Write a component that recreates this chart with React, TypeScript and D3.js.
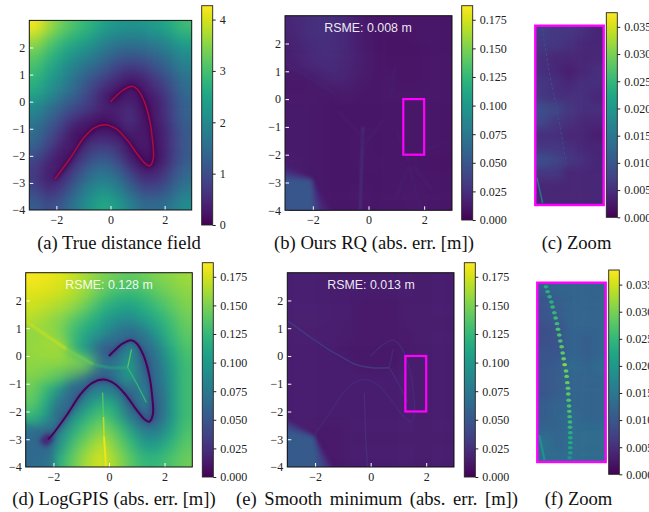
import React, { useRef, useEffect } from "react";
import * as d3 from "d3";

// cell centres of the coarse field grids
const fieldX = [-2.75, -2.25, -1.75, -1.25, -0.75, -0.25, 0.25, 0.75, 1.25, 1.75, 2.25, 2.75];
const fieldY = [2.75, 2.25, 1.75, 1.25, 0.75, 0.25, -0.25, -0.75, -1.25, -1.75, -2.25, -2.75, -3.25, -3.75];
const zoomX = [1.325, 1.475, 1.625, 1.775, 1.925];

const trueField = [
  [4.2, 3.65, 3.27, 3.0, 2.75, 2.42, 2.25, 2.18, 2.25, 2.38, 2.62, 2.95],
  [3.65, 3.18, 2.85, 2.58, 2.35, 1.95, 1.75, 1.68, 1.75, 1.9, 2.2, 2.5],
  [3.25, 2.85, 2.47, 2.15, 1.9, 1.6, 1.3, 1.18, 1.28, 1.45, 1.75, 2.1],
  [3.0, 2.55, 2.15, 1.77, 1.46, 1.2, 0.85, 0.68, 0.8, 1.1, 1.45, 1.85],
  [2.75, 2.3, 1.92, 1.46, 1.06, 0.78, 0.45, 0.2, 0.4, 0.75, 1.15, 1.6],
  [2.47, 2.05, 1.62, 1.27, 0.79, 0.35, 0.1, 0.3, 0.2, 0.45, 0.95, 1.45],
  [2.0, 1.6, 1.2, 0.9, 0.72, 0.4, 0.4, 0.58, 0.1, 0.35, 0.85, 1.35],
  [1.7, 1.25, 0.85, 0.45, 0.2, 0.1, 0.28, 0.65, 0.2, 0.3, 0.8, 1.3],
  [1.5, 0.98, 0.55, 0.1, 0.3, 0.4, 0.25, 0.28, 0.3, 0.2, 0.7, 1.2],
  [1.25, 0.75, 0.28, 0.28, 0.75, 0.9, 0.7, 0.15, 0.3, 0.18, 0.7, 1.2],
  [0.85, 0.4, 0.15, 0.65, 1.15, 1.35, 1.05, 0.45, 0.1, 0.2, 0.75, 1.25],
  [0.7, 0.22, 0.5, 1.05, 1.55, 1.75, 1.5, 0.95, 0.45, 0.55, 1.0, 1.5],
  [0.95, 0.5, 0.85, 1.45, 1.95, 2.2, 1.9, 1.4, 0.95, 0.95, 1.3, 1.75],
  [1.25, 0.95, 1.25, 1.75, 2.25, 2.6, 2.35, 1.85, 1.45, 1.45, 1.7, 2.1],
];

const oursField = [
  [0.02, 0.024, 0.026, 0.024, 0.02, 0.013, 0.0105, 0.0105, 0.0105, 0.0105, 0.0105, 0.0105],
  [0.018, 0.024, 0.026, 0.024, 0.02, 0.013, 0.0105, 0.009, 0.009, 0.0105, 0.0105, 0.0105],
  [0.016, 0.02, 0.024, 0.024, 0.02, 0.015, 0.0105, 0.009, 0.009, 0.009, 0.0105, 0.0105],
  [0.015, 0.02, 0.022, 0.022, 0.018, 0.015, 0.0105, 0.009, 0.009, 0.009, 0.0105, 0.0105],
  [0.011, 0.011, 0.016, 0.02, 0.018, 0.013, 0.0105, 0.0105, 0.009, 0.009, 0.0105, 0.0105],
  [0.011, 0.011, 0.011, 0.011, 0.013, 0.0105, 0.0105, 0.0105, 0.0105, 0.0105, 0.0105, 0.0105],
  [0.013, 0.013, 0.012, 0.0105, 0.0105, 0.0105, 0.0105, 0.0105, 0.0105, 0.0105, 0.0105, 0.0105],
  [0.013, 0.013, 0.012, 0.0105, 0.0105, 0.0105, 0.0105, 0.0105, 0.0105, 0.0105, 0.0105, 0.0105],
  [0.013, 0.013, 0.012, 0.0105, 0.0105, 0.012, 0.0105, 0.0105, 0.0105, 0.0105, 0.0105, 0.0105],
  [0.013, 0.013, 0.012, 0.0105, 0.0105, 0.012, 0.0105, 0.0105, 0.0105, 0.0105, 0.0105, 0.0105],
  [0.014, 0.013, 0.012, 0.0105, 0.0105, 0.012, 0.012, 0.0105, 0.0105, 0.0105, 0.009, 0.009],
  [0.014, 0.013, 0.012, 0.0105, 0.0105, 0.0105, 0.0105, 0.0105, 0.0105, 0.0105, 0.0105, 0.0105],
  [0.014, 0.014, 0.012, 0.0105, 0.0105, 0.012, 0.0105, 0.0105, 0.012, 0.012, 0.0105, 0.0105],
  [0.014, 0.014, 0.012, 0.0105, 0.0105, 0.012, 0.0105, 0.0105, 0.0105, 0.012, 0.0105, 0.0105],
];

const gpisField = [
  [0.185, 0.182, 0.178, 0.17, 0.16, 0.15, 0.145, 0.14, 0.145, 0.15, 0.155, 0.16],
  [0.178, 0.176, 0.172, 0.165, 0.155, 0.14, 0.128, 0.125, 0.13, 0.14, 0.148, 0.155],
  [0.172, 0.168, 0.162, 0.155, 0.14, 0.12, 0.11, 0.105, 0.115, 0.128, 0.14, 0.15],
  [0.165, 0.158, 0.15, 0.135, 0.12, 0.105, 0.09, 0.085, 0.1, 0.115, 0.13, 0.145],
  [0.155, 0.16, 0.15, 0.125, 0.105, 0.09, 0.07, 0.055, 0.07, 0.1, 0.125, 0.14],
  [0.158, 0.162, 0.165, 0.125, 0.09, 0.05, 0.05, 0.09, 0.055, 0.08, 0.115, 0.135],
  [0.155, 0.155, 0.155, 0.15, 0.14, 0.07, 0.075, 0.105, 0.05, 0.07, 0.105, 0.13],
  [0.15, 0.14, 0.125, 0.085, 0.06, 0.05, 0.07, 0.11, 0.06, 0.065, 0.1, 0.13],
  [0.145, 0.125, 0.09, 0.05, 0.07, 0.085, 0.07, 0.055, 0.085, 0.055, 0.1, 0.13],
  [0.14, 0.11, 0.065, 0.06, 0.1, 0.12, 0.11, 0.05, 0.08, 0.05, 0.1, 0.13],
  [0.12, 0.1, 0.05, 0.1, 0.125, 0.14, 0.12, 0.08, 0.05, 0.055, 0.1, 0.13],
  [0.07, 0.05, 0.085, 0.12, 0.14, 0.155, 0.14, 0.115, 0.08, 0.08, 0.11, 0.135],
  [0.06, 0.05, 0.1, 0.135, 0.155, 0.17, 0.15, 0.13, 0.105, 0.105, 0.125, 0.14],
  [0.065, 0.075, 0.12, 0.145, 0.165, 0.175, 0.16, 0.14, 0.125, 0.125, 0.135, 0.145],
];

const smoothField = [
  [0.016, 0.016, 0.016, 0.014, 0.014, 0.014, 0.014, 0.014, 0.014, 0.014, 0.014, 0.014],
  [0.016, 0.016, 0.016, 0.014, 0.014, 0.014, 0.014, 0.014, 0.014, 0.014, 0.014, 0.014],
  [0.016, 0.016, 0.016, 0.015, 0.014, 0.012, 0.012, 0.012, 0.014, 0.014, 0.014, 0.014],
  [0.016, 0.016, 0.016, 0.015, 0.014, 0.012, 0.012, 0.012, 0.014, 0.014, 0.014, 0.014],
  [0.014, 0.014, 0.014, 0.014, 0.014, 0.012, 0.012, 0.012, 0.012, 0.014, 0.014, 0.014],
  [0.014, 0.014, 0.014, 0.014, 0.012, 0.012, 0.012, 0.012, 0.012, 0.014, 0.014, 0.014],
  [0.014, 0.014, 0.014, 0.014, 0.014, 0.012, 0.012, 0.012, 0.014, 0.014, 0.014, 0.014],
  [0.014, 0.014, 0.014, 0.014, 0.014, 0.014, 0.014, 0.014, 0.014, 0.014, 0.014, 0.014],
  [0.014, 0.014, 0.014, 0.014, 0.014, 0.014, 0.014, 0.014, 0.014, 0.014, 0.014, 0.014],
  [0.014, 0.014, 0.014, 0.014, 0.014, 0.014, 0.014, 0.014, 0.014, 0.014, 0.014, 0.014],
  [0.014, 0.014, 0.014, 0.014, 0.014, 0.014, 0.014, 0.014, 0.014, 0.014, 0.014, 0.014],
  [0.014, 0.014, 0.012, 0.012, 0.014, 0.014, 0.014, 0.014, 0.014, 0.014, 0.014, 0.014],
  [0.014, 0.014, 0.012, 0.012, 0.014, 0.014, 0.014, 0.014, 0.014, 0.014, 0.014, 0.014],
  [0.014, 0.014, 0.012, 0.012, 0.014, 0.014, 0.014, 0.014, 0.014, 0.014, 0.014, 0.014],
];

const zoomOursField = [
  [0.007, 0.006, 0.006, 0.005, 0.004],
  [0.006, 0.006, 0.005, 0.004, 0.004],
  [0.005, 0.004, 0.004, 0.004, 0.004],
  [0.005, 0.004, 0.003, 0.004, 0.005],
  [0.006, 0.005, 0.004, 0.005, 0.005],
  [0.006, 0.005, 0.005, 0.005, 0.004],
  [0.009, 0.008, 0.006, 0.005, 0.005],
  [0.008, 0.006, 0.005, 0.004, 0.004],
  [0.005, 0.005, 0.004, 0.004, 0.003],
  [0.006, 0.006, 0.005, 0.004, 0.004],
  [0.009, 0.008, 0.006, 0.005, 0.004],
  [0.006, 0.006, 0.004, 0.004, 0.004],
  [0.004, 0.004, 0.004, 0.004, 0.004],
  [0.004, 0.004, 0.004, 0.004, 0.004],
];

const zoomSmoothField = [
  [0.011, 0.012, 0.012, 0.012, 0.012],
  [0.01, 0.011, 0.012, 0.012, 0.012],
  [0.01, 0.011, 0.012, 0.012, 0.012],
  [0.009, 0.01, 0.012, 0.012, 0.012],
  [0.009, 0.01, 0.012, 0.011, 0.012],
  [0.01, 0.01, 0.012, 0.011, 0.012],
  [0.01, 0.011, 0.013, 0.012, 0.013],
  [0.01, 0.011, 0.012, 0.012, 0.012],
  [0.01, 0.011, 0.012, 0.012, 0.012],
  [0.011, 0.012, 0.012, 0.012, 0.012],
  [0.011, 0.012, 0.013, 0.012, 0.012],
  [0.012, 0.012, 0.013, 0.013, 0.013],
  [0.014, 0.012, 0.013, 0.013, 0.013],
  [0.013, 0.013, 0.013, 0.013, 0.013],
];

// the object's outline
const outline: [number, number][] = [
  [-2.05, -2.85], [-1.5, -2.1], [-1, -1.35], [-0.6, -0.97], [-0.2, -0.85], [0.2, -1.0],
  [0.6, -1.4], [1, -1.95], [1.3, -2.3], [1.45, -2.37], [1.58, -2.1], [1.55, -1.4],
  [1.45, -0.7], [1.25, 0], [1.0, 0.45], [0.8, 0.57], [0.5, 0.45], [0.2, 0.2], [0, 0],
];
const outlineLong: [number, number][] = [[-2.2, -3.0], ...outline];
const outlineTail: [number, number][] = [[-2.4, -3.15], [-2.1, -2.9]];

const splitA: [number, number][] = [[-3, 1.27], [-2.2, 0.7], [-1.52, 0.24]];
const splitB: [number, number][] = [[-1.52, 0.24], [-1, -0.06], [-0.56, -0.3]];
const splitC: [number, number][] = [[-0.56, -0.3], [0.03, -0.42], [0.67, -0.42]];
const splitLeft: [number, number][] = [...splitA, ...splitB.slice(1), ...splitC.slice(1)];
const splitUp: [number, number][] = [[0.67, -0.42], [0.81, 0.24]];
const splitDown: [number, number][] = [[0.67, -0.42], [1.0, -1.0], [1.35, -1.68]];
const splitBottomA: [number, number][] = [[-0.23, -1.32], [-0.2, -2.2]];
const splitBottomB: [number, number][] = [[-0.2, -2.2], [-0.18, -2.9]];
const splitBottomC: [number, number][] = [[-0.18, -2.9], [-0.11, -4]];
const splitBottom: [number, number][] = [...splitBottomA, ...splitBottomB.slice(1), ...splitBottomC.slice(1)];

const rayA: [number, number][] = [[-3, 1.3], [-1.2, 0.2]];
const rayB: [number, number][] = [[-0.3, -4], [-0.2, -1.0]];
const rayC: [number, number][] = [[0.8, 0.1], [0.95, 1.2]];
const rayD: [number, number][] = [[1.45, -2.2], [1.0, -1.1]];
const rayE: [number, number][] = [[1.6, -2.4], [2.3, -3.3]];
const rayF: [number, number][] = [[-0.2, -1.4], [-1.1, -0.4]];
const rayG: [number, number][] = [[-0.2, -1.7], [0.6, -0.7]];
const rayH: [number, number][] = [[1.45, -2.4], [0.95, -3.6]];
const rayI: [number, number][] = [[1.45, -2.4], [1.9, -4]];
const rayJ: [number, number][] = [[1.5, -2.0], [3, -1.5]];

const zoomRidgeC: [number, number][] = [[1.33, -0.03], [1.4, -0.5], [1.5, -1.0], [1.59, -1.55]];
const zoomStreak: [number, number][] = [[1.27, -1.7], [1.33, -1.98]];

const roiX = [1.25, 2];
const roiY = [0, -2];

// patches with sharp edges laid over the grid
type Patch = { pts: [number, number][]; v: number; op: number; blur: string };
const oursPatches: Patch[] = [
  { pts: [[-3, -2.2], [-2.05, -2.85], [-1.2, -4], [-3, -4]], v: 0.02, op: 1, blur: "b3" },
  { pts: [[-3, -2.5], [-2.05, -2.87], [-1.6, -4], [-3, -4]], v: 0.033, op: 1, blur: "b3" },
  { pts: [[-3, -2.8], [-2.05, -2.92], [-1.9, -4], [-3, -4]], v: 0.05, op: 1, blur: "b3" },
];
const smoothPatches: Patch[] = [
  { pts: [[-3, -2.05], [-2.05, -2.87], [-1.15, -4], [-3, -4]], v: 0.026, op: 1, blur: "b3" },
  { pts: [[-3, -2.25], [-2.05, -2.9], [-1.45, -4], [-3, -4]], v: 0.04, op: 1, blur: "b3" },
  { pts: [[-3, -2.55], [-2.05, -2.95], [-1.8, -4], [-3, -4]], v: 0.052, op: 1, blur: "b3" },
];
const gpisPatches: Patch[] = [
  { pts: [[-3, 1.27], [-1.52, 0.24], [-0.56, -0.3], [-1.0, -0.8], [-2, -1], [-3, -0.5]], v: 0.158, op: 0.3, blur: "b4" },
  { pts: [[-3, -2.15], [-2.12, -2.93], [-1.9, -4], [-3, -4]], v: 0.065, op: 0.5, blur: "b3" },
];

// dots on the surface in the LogGPIS zoom: x, y, error
const zoomDots: [number, number, number][] = [
  [1.345, -0.045, 0.023], [1.363, -0.1, 0.024], [1.385, -0.156, 0.024], [1.404, -0.216, 0.024],
  [1.418, -0.271, 0.025], [1.437, -0.335, 0.025], [1.451, -0.394, 0.026], [1.466, -0.457, 0.026],
  [1.477, -0.52, 0.027], [1.491, -0.584, 0.027], [1.502, -0.651, 0.027], [1.517, -0.714, 0.028],
  [1.528, -0.784, 0.028], [1.539, -0.848, 0.029], [1.55, -0.914, 0.031], [1.565, -0.985, 0.029],
  [1.572, -1.045, 0.029], [1.579, -1.115, 0.029], [1.587, -1.178, 0.028], [1.59, -1.242, 0.028],
  [1.594, -1.312, 0.027], [1.598, -1.375, 0.027], [1.601, -1.435, 0.027], [1.605, -1.494, 0.026],
  [1.609, -1.554, 0.026], [1.609, -1.613, 0.025], [1.612, -1.673, 0.024], [1.612, -1.729, 0.023],
  [1.612, -1.784, 0.023], [1.612, -1.84, 0.022], [1.612, -1.896, 0.021], [1.605, -1.952, 0.019],
];

const line = (d3.line() as any).curve(d3.curveCatmullRom);

type Mark = { pts: [number, number][]; v: number; w: number; blur?: string; dash?: string; color?: string; op?: number };

const panels = [
  {
    box: [29.3, 20.4, 191.7, 210], xd: [-3, 3], yd: [3, -4], field: trueField, xs: fieldX, ys: fieldY, blur: "b6",
    bar: [201.7, 5.7, 212.7, 225], max: 4.27, ticks: [0, 1, 2, 3, 4], fmt: "d", axes: true,
    caption: "(a) True distance field", capX: 119,
    marks: [
      { pts: outline, v: 0, w: 4, blur: "b3" },
      { pts: outline, v: 0, w: 1.5, color: "#a8103c" },
    ] as Mark[],
  },
  {
    box: [285, 15.7, 452, 210.3], xd: [-3, 3], yd: [3, -4], field: oursField, xs: fieldX, ys: fieldY, blur: "b6",
    bar: [461.7, 5.7, 472.7, 220], max: 0.1873, ticks: d3.range(0, 0.176, 0.025), fmt: ".3f", axes: true,
    caption: "(b) Ours RQ (abs. err. [m])", capX: 374, note: "RSME: 0.008 m", noteX: 368,
    patches: oursPatches, roi: true,
    marks: [
      { pts: rayA, v: 0.02, w: 1.2, blur: "b2" },
      { pts: rayB, v: 0.024, w: 2.4, blur: "b2" },
      { pts: rayC, v: 0.016, w: 1.6, blur: "b2" },
      { pts: rayD, v: 0.015, w: 2, blur: "b2" },
      { pts: rayE, v: 0.014, w: 3, blur: "b2" },
      { pts: rayF, v: 0.014, w: 2.4, blur: "b2" },
      { pts: rayG, v: 0.014, w: 2.4, blur: "b2" },
      { pts: rayH, v: 0.014, w: 3, blur: "b2" },
      { pts: rayI, v: 0.014, w: 3, blur: "b2" },
      { pts: rayJ, v: 0.013, w: 2.4, blur: "b2" },
    ] as Mark[],
  },
  {
    box: [535.3, 25.7, 603.7, 205], xd: roiX, yd: roiY, field: zoomOursField, xs: zoomX, ys: fieldY, blur: "b4",
    bar: [606.3, 12.7, 617.3, 217.3], max: 0.0376, ticks: d3.range(0, 0.036, 0.005), fmt: ".3f", axes: false,
    caption: "(c) Zoom", capX: 576.5, frame: true,
    marks: [
      { pts: zoomRidgeC, v: 0.009, w: 1, blur: "b1", dash: "3 2" },
      { pts: zoomStreak, v: 0.014, w: 1.5, blur: "b1" },
    ] as Mark[],
  },
  {
    box: [25.7, 272.7, 192.3, 467], xd: [-3, 3], yd: [3, -4], field: gpisField, xs: fieldX, ys: fieldY, blur: "b6",
    bar: [202.3, 262.7, 213.3, 477], max: 0.1873, ticks: d3.range(0, 0.176, 0.025), fmt: ".3f", axes: true,
    caption: "(d) LogGPIS (abs. err. [m])", capX: 114, note: "RSME: 0.128 m", noteX: 109,
    patches: gpisPatches,
    marks: [
      { pts: outlineTail, v: 0.02, w: 9, blur: "b3" },
      { pts: outlineLong, v: 0.02, w: 4, blur: "b3", op: 0.5 },
      { pts: outlineLong, v: 0.002, w: 2, blur: "b1" },
      { pts: splitA, v: 0.172, w: 2, blur: "b2" },
      { pts: splitB, v: 0.15, w: 1.6, blur: "b2" },
      { pts: splitC, v: 0.12, w: 1.4, blur: "b2" },
      { pts: splitUp, v: 0.14, w: 1.2, blur: "b1" },
      { pts: splitDown, v: 0.125, w: 1.2, blur: "b1" },
      { pts: splitBottomA, v: 0.14, w: 1.2, blur: "b1" },
      { pts: splitBottomB, v: 0.168, w: 1.6, blur: "b1" },
      { pts: splitBottomC, v: 0.182, w: 2, blur: "b1" },
    ] as Mark[],
  },
  {
    box: [287.3, 272.7, 454, 467], xd: [-3, 3], yd: [3, -4], field: smoothField, xs: fieldX, ys: fieldY, blur: "b6",
    bar: [464.3, 262.7, 475.3, 477], max: 0.1873, ticks: d3.range(0, 0.176, 0.025), fmt: ".3f", axes: true,
    caption: "(e) Smooth minimum (abs. err. [m])", capX: 377, capSpace: 3, note: "RSME: 0.013 m", noteX: 371,
    patches: smoothPatches, roi: true,
    marks: [
      { pts: outline, v: 0.022, w: 1.2, blur: "b1" },
      { pts: splitLeft, v: 0.03, w: 1.5, blur: "b1" },
      { pts: splitUp, v: 0.022, w: 1.2, blur: "b1" },
      { pts: splitDown, v: 0.024, w: 1.2, blur: "b1" },
      { pts: splitBottom, v: 0.024, w: 1.4, blur: "b1" },
    ] as Mark[],
  },
  {
    box: [537.3, 282.7, 605.7, 462], xd: roiX, yd: roiY, field: zoomSmoothField, xs: zoomX, ys: fieldY, blur: "b4",
    bar: [608.7, 270, 619.3, 474.3], max: 0.0377, ticks: d3.range(0, 0.036, 0.005), fmt: ".3f", axes: false,
    caption: "(f) Zoom", capX: 578.5, frame: true, dots: zoomDots,
    marks: [
      { pts: zoomStreak, v: 0.019, w: 2.2, blur: "b1" },
    ] as Mark[],
  },
];

const App = () => {
  const svgRef = useRef<SVGSVGElement>(null);

  useEffect(() => {
    const svg = d3.select(svgRef.current);
    svg.selectAll("*").remove();

    const defs = svg.append("defs");
    [["b1", 0.6], ["b2", 1.2], ["b3", 2.2], ["b4", 4.5], ["b6", 6.5]].forEach(([id, sd]) => {
      defs
        .append("filter")
        .attr("id", id as string)
        .attr("filterUnits", "userSpaceOnUse")
        .attr("x", -60).attr("y", -60).attr("width", 800).attr("height", 660)
        .attr("color-interpolation-filters", "sRGB")
        .append("feGaussianBlur")
        .attr("stdDeviation", sd as number);
    });

    panels.forEach((p: any, idx) => {
      const [x0, y0, x1, y1] = p.box;
      const x = d3.scaleLinear().domain(p.xd).range([x0, x1]);
      const y = d3.scaleLinear().domain(p.yd).range([y0, y1]);
      const color = d3.scaleSequential(d3.interpolateViridis).domain([0, p.max]);
      const path = line.x((d: number[]) => x(d[0])).y((d: number[]) => y(d[1]));

      defs
        .append("clipPath")
        .attr("id", `clip${idx}`)
        .append("rect")
        .attr("x", x0).attr("y", y0).attr("width", x1 - x0).attr("height", y1 - y0);

      const plot = svg.append("g").attr("clip-path", `url(#clip${idx})`);

      // grid cells, outer ones run past the frame so the blur keeps its edge
      const bx = d3.scaleBand<number>().domain(p.xs).range([x0, x1]);
      const by = d3.scaleBand<number>().domain(p.ys).range([y0, y1]);
      const over = 30;
      const cells = plot.append("g").attr("filter", `url(#${p.blur})`);
      p.field.forEach((row: number[], r: number) => {
        row.forEach((v, c) => {
          const left = c === 0 ? over : 0;
          const right = c === row.length - 1 ? over : 0;
          const top = r === 0 ? over : 0;
          const bottom = r === p.field.length - 1 ? over : 0;
          cells
            .append("rect")
            .attr("x", bx(p.xs[c])! - left)
            .attr("y", by(p.ys[r])! - top)
            .attr("width", bx.bandwidth() + left + right + 0.5)
            .attr("height", by.bandwidth() + top + bottom + 0.5)
            .attr("fill", color(v));
        });
      });

      (p.patches || []).forEach((w: Patch) => {
        // corners pushed out a little so the blur does not fade at the frame
        const pts = w.pts.map((d) => {
          const px = d[0] <= -3 ? x(d[0]) - 12 : x(d[0]);
          const py = d[1] <= -4 ? y(d[1]) + 12 : y(d[1]);
          return [px, py] as [number, number];
        });
        plot
          .append("path")
          .attr("d", d3.line()(pts)! + "Z")
          .attr("fill", color(w.v))
          .attr("opacity", w.op)
          .attr("filter", `url(#${w.blur})`);
      });

      p.marks.forEach((m: Mark) => {
        plot
          .append("path")
          .attr("d", path(m.pts))
          .attr("fill", "none")
          .attr("stroke", m.color || color(m.v))
          .attr("stroke-width", m.w)
          .attr("stroke-opacity", m.op ?? 1)
          .attr("stroke-dasharray", m.dash || null)
          .attr("filter", m.blur ? `url(#${m.blur})` : null);
      });

      if (p.dots) {
        plot
          .append("g")
          .attr("filter", "url(#b1)")
          .selectAll("ellipse")
          .data(p.dots as number[][])
          .join("ellipse")
          .attr("cx", (d) => x(d[0]))
          .attr("cy", (d) => y(d[1]))
          .attr("rx", 2.4)
          .attr("ry", 1.7)
          .attr("fill", (d) => color(d[2]));
      }

      if (p.roi) {
        plot
          .append("rect")
          .attr("x", x(roiX[0])).attr("y", y(roiY[0]))
          .attr("width", x(roiX[1]) - x(roiX[0]))
          .attr("height", y(roiY[1]) - y(roiY[0]))
          .attr("fill", "none").attr("stroke", "#f0f").attr("stroke-width", 2.2);
      }

      if (p.note) {
        svg
          .append("text")
          .attr("x", p.noteX).attr("y", y0 + 16.5)
          .attr("text-anchor", "middle")
          .attr("font-family", "Liberation Sans")
          .attr("font-size", 12.4)
          .attr("fill", "#fff")
          .attr("fill-opacity", 0.92)
          .text(p.note);
      }

      if (p.axes) {
        const style = (g: any) => {
          g.select(".domain").remove();
          g.selectAll("line").attr("stroke", "#fff").attr("stroke-width", 1);
          g.selectAll("text").attr("fill", "#222");
          g.attr("font-family", "Liberation Serif").attr("font-size", 12);
        };
        svg
          .append("g")
          .attr("transform", `translate(${x0},0)`)
          .call(d3.axisLeft(y).tickValues([-4, -3, -2, -1, 0, 1, 2]).tickFormat(d3.format("d") as any).tickSize(-4).tickPadding(4) as any)
          .call(style);
        svg
          .append("g")
          .attr("transform", `translate(0,${y1})`)
          .call(d3.axisBottom(x).tickValues([-2, 0, 2]).tickFormat(d3.format("d") as any).tickSize(-4).tickPadding(5) as any)
          .call(style);
      }

      svg
        .append("rect")
        .attr("x", x0).attr("y", y0).attr("width", x1 - x0).attr("height", y1 - y0)
        .attr("fill", "none")
        .attr("stroke", p.frame ? "#f0f" : "#111")
        .attr("stroke-width", p.frame ? 2.4 : 1);

      // colour bar
      const [bx0, by0, bx1, by1] = p.bar;
      const gid = `grad${idx}`;
      const grad = defs.append("linearGradient").attr("id", gid).attr("x1", 0).attr("x2", 0).attr("y1", 1).attr("y2", 0);
      d3.range(0, 1.001, 0.05).forEach((t) => {
        grad.append("stop").attr("offset", t).attr("stop-color", d3.interpolateViridis(t));
      });
      svg
        .append("rect")
        .attr("x", bx0).attr("y", by0).attr("width", bx1 - bx0).attr("height", by1 - by0)
        .attr("fill", `url(#${gid})`).attr("stroke", "#222").attr("stroke-width", 0.9);
      const barScale = d3.scaleLinear().domain([0, p.max]).range([by1, by0]);
      const barAxis = svg
        .append("g")
        .attr("transform", `translate(${bx1},0)`)
        .call(d3.axisRight(barScale).tickValues(p.ticks).tickFormat(d3.format(p.fmt) as any).tickSize(3).tickPadding(4) as any);
      barAxis.select(".domain").remove();
      barAxis.selectAll("line").attr("stroke", "#222");
      barAxis.selectAll("text").attr("fill", "#222");
      barAxis.attr("font-family", "Liberation Serif").attr("font-size", 12);

      svg
        .append("text")
        .attr("x", p.capX).attr("y", idx < 3 ? 249 : 505)
        .attr("text-anchor", "middle")
        .attr("font-family", "Liberation Serif")
        .attr("font-size", 18.6)
        .attr("word-spacing", p.capSpace || 0)
        .attr("fill", "#111")
        .text(p.caption);
    });
  }, []);

  return (
    <svg
      ref={svgRef}
      width={649}
      height={512}
      style={{ position: "absolute", left: 0, top: 0, background: "#fff" }}
    ></svg>
  );
};

export default App;
